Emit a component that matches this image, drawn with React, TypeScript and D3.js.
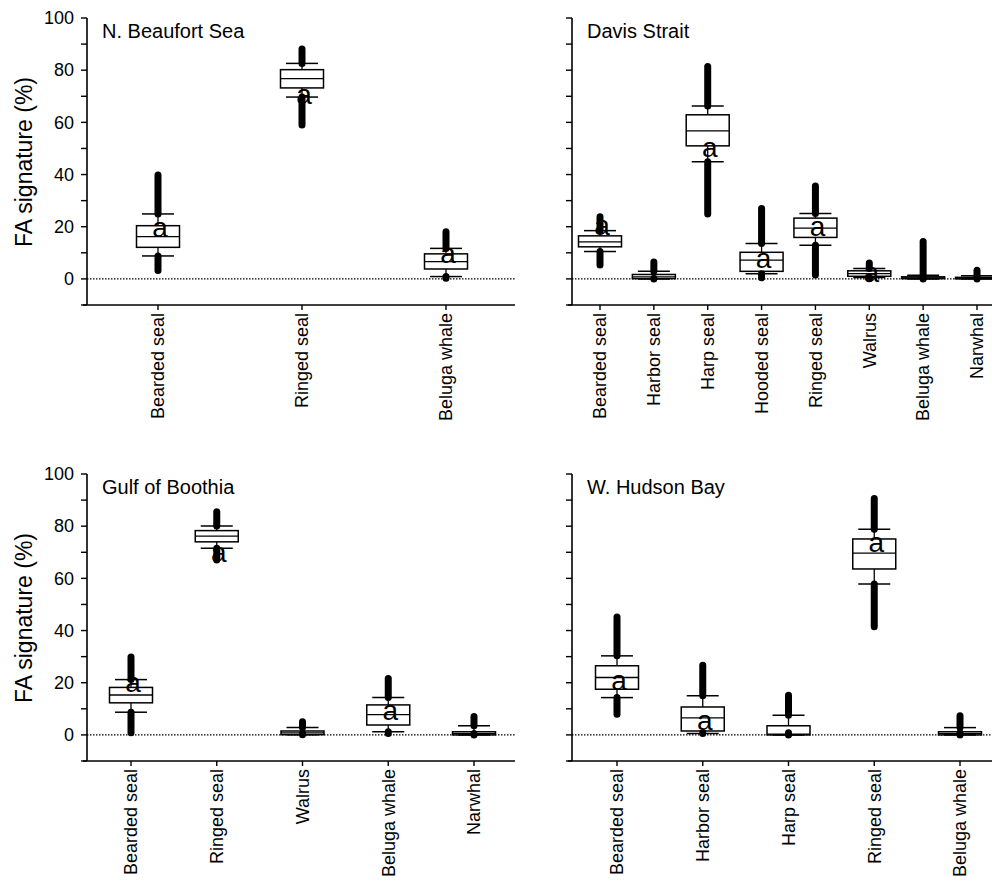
import React from "react";
import * as d3 from "d3";

// Each row: [lowest outlier, lower whisker, Q1, median, Q3, upper whisker, highest outlier]
const beaufortCats = ["Bearded seal", "Ringed seal", "Beluga whale"];
const beaufortStats = [
  [3.2, 8.8, 12.1, 16.2, 20.4, 24.9, 39.8],
  [59.0, 69.7, 73.2, 76.8, 80.2, 82.6, 88.1],
  [0.3, 0.9, 3.8, 6.6, 9.6, 11.7, 18.1],
];
const beaufortLetters = [16.2, 66.9, 6.0];

const davisCats = ["Bearded seal", "Harbor seal", "Harp seal", "Hooded seal", "Ringed seal", "Walrus", "Beluga whale", "Narwhal"];
const davisStats = [
  [5.3, 10.5, 12.3, 14.2, 16.5, 18.5, 23.8],
  [0.3, 0, 0.1, 0.8, 1.7, 2.9, 6.5],
  [24.9, 44.9, 51.0, 56.7, 62.9, 66.3, 81.4],
  [0.4, 2.0, 2.9, 7.2, 10.2, 13.6, 27.0],
  [1.5, 12.9, 15.9, 19.5, 23.3, 25.1, 35.6],
  [0.1, 0.5, 1.0, 2.0, 3.1, 4.0, 6.1],
  [0.4, 0, 0.1, 0.4, 0.8, 1.4, 14.3],
  [0.4, 0, 0.1, 0.3, 0.6, 1.2, 3.3],
];
const davisLetters = [16.8, null, 46.9, 4.0, 16.4, -1.1, null, null];

const boothiaCats = ["Bearded seal", "Ringed seal", "Walrus", "Beluga whale", "Narwhal"];
const boothiaStats = [
  [0.8, 8.7, 12.3, 15.3, 18.2, 21.2, 29.9],
  [67.0, 71.5, 74.0, 76.2, 78.3, 80.1, 85.5],
  [0.5, 0.1, 0.1, 0.8, 1.5, 2.8, 5.0],
  [0.5, 1.2, 3.8, 7.8, 11.5, 14.3, 21.6],
  [0.5, 0, 0, 0.5, 1.2, 3.5, 7.1],
];
const boothiaLetters = [16.5, 66.1, null, 5.9, null];

const hudsonCats = ["Bearded seal", "Harbor seal", "Harp seal", "Ringed seal", "Beluga whale"];
const hudsonStats = [
  [7.9, 14.3, 17.5, 22.0, 26.5, 30.3, 45.2],
  [0.8, 0.5, 1.5, 6.5, 10.7, 15.0, 26.7],
  [0.8, 0, 0, 0.3, 3.5, 7.5, 15.2],
  [41.5, 57.8, 63.6, 69.7, 75.1, 78.8, 90.6],
  [0.8, 0, 0, 0.5, 1.2, 2.8, 7.3],
];
const hudsonLetters = [17.1, 1.8, null, 70.2, null];

const yTickValues = [-10, 0, 10, 20, 30, 40, 50, 60, 70, 80, 90, 100];
const yLabelValues = [0, 20, 40, 60, 80, 100];
const yTitle = "FA signature (%)";

const FONT = "'Liberation Sans', Arial, Helvetica, sans-serif";

type PanelProps = {
  title: string;
  cats: string[];
  stats: number[][];
  letters: (number | null)[];
  axisX: number;
  xEnd: number;
  firstX: number;
  lastX: number;
  yTop: number;
  yBottom: number;
  showLabels: boolean;
};

function Panel(p: PanelProps) {
  const y = d3.scaleLinear().domain([-10, 100]).range([p.yBottom, p.yTop]);
  const x = d3.scalePoint<string>().domain(p.cats).range([p.firstX, p.lastX]);
  const boxW = 43;
  const capW = 32;
  const dotW = 7;
  return (
    <g style={{ fontFamily: FONT }}>
      <line x1={p.axisX} x2={p.xEnd} y1={y(0)} y2={y(0)} stroke="#000" strokeWidth={1.3} strokeDasharray="1.5,1.5" />
      <line x1={p.axisX} x2={p.axisX} y1={y(100)} y2={y(-10)} stroke="#000" strokeWidth={1.6} />
      {yTickValues.map((t) => (
        <line key={t} x1={p.axisX - 6} x2={p.axisX} y1={y(t)} y2={y(t)} stroke="#000" strokeWidth={1.4} />
      ))}
      {p.showLabels &&
        yLabelValues.map((t) => (
          <text key={"l" + t} x={p.axisX - 13} y={y(t)} dy="0.35em" textAnchor="end" fontSize={18} fill="#000">
            {t}
          </text>
        ))}
      <line x1={p.axisX - 4} x2={p.xEnd} y1={y(-10)} y2={y(-10)} stroke="#000" strokeWidth={1.6} />
      {p.cats.map((c) => (
        <g key={c}>
          <line x1={x(c)!} x2={x(c)!} y1={y(-10)} y2={y(-10) + 5} stroke="#000" strokeWidth={1.4} />
          <text
            transform={`translate(${x(c)!},${y(-10) + 8}) rotate(-90)`}
            textAnchor="end"
            dy="0.35em"
            fontSize={18}
            fill="#000"
          >
            {c}
          </text>
        </g>
      ))}
      {p.cats.map((c, i) => {
        const [oLo, wLo, q1, med, q3, wHi, oHi] = p.stats[i];
        const cx = x(c)!;
        const letter = p.letters[i];
        return (
          <g key={"b" + c}>
            <line x1={cx} x2={cx} y1={y(q3)} y2={y(wHi)} stroke="#000" strokeWidth={1.3} />
            <line x1={cx} x2={cx} y1={y(q1)} y2={y(wLo)} stroke="#000" strokeWidth={1.3} />
            <rect x={cx - boxW / 2} y={y(q3)} width={boxW} height={Math.max(1.5, y(q1) - y(q3))} fill="#fff" stroke="#000" strokeWidth={1.5} />
            <line x1={cx - boxW / 2} x2={cx + boxW / 2} y1={y(med)} y2={y(med)} stroke="#000" strokeWidth={1.3} />
            <line x1={cx - capW / 2} x2={cx + capW / 2} y1={y(wHi)} y2={y(wHi)} stroke="#000" strokeWidth={1.5} />
            <line x1={cx - capW / 2} x2={cx + capW / 2} y1={y(wLo)} y2={y(wLo)} stroke="#000" strokeWidth={1.5} />
            <line x1={cx} x2={cx} y1={y(wHi)} y2={y(oHi)} stroke="#000" strokeWidth={dotW} strokeLinecap="round" />
            <line x1={cx} x2={cx} y1={y(wLo)} y2={y(oLo)} stroke="#000" strokeWidth={dotW} strokeLinecap="round" />
            {letter !== null && (
              <text x={cx + 2} y={y(letter)} textAnchor="middle" fontSize={28} fill="#000" style={{ fontFamily: FONT }}>
                a
              </text>
            )}
          </g>
        );
      })}
      <text x={p.axisX + 15} y={p.yTop + 20} fontSize={20} fill="#000">
        {p.title}
      </text>
    </g>
  );
}

export default function App() {
  return (
    <svg width={992} height={881} style={{ position: "absolute", left: 0, top: 0, background: "#fff", fontFamily: FONT }}>
      <rect width={992} height={881} fill="#fff" />
      <Panel title="N. Beaufort Sea" cats={beaufortCats} stats={beaufortStats} letters={beaufortLetters}
        axisX={87} xEnd={515} firstX={158} lastX={446} yTop={18} yBottom={305} showLabels={true} />
      <Panel title="Davis Strait" cats={davisCats} stats={davisStats} letters={davisLetters}
        axisX={572} xEnd={992} firstX={600} lastX={977} yTop={18} yBottom={305} showLabels={false} />
      <Panel title="Gulf of Boothia" cats={boothiaCats} stats={boothiaStats} letters={boothiaLetters}
        axisX={87} xEnd={515} firstX={131} lastX={474} yTop={474} yBottom={761} showLabels={true} />
      <Panel title="W. Hudson Bay" cats={hudsonCats} stats={hudsonStats} letters={hudsonLetters}
        axisX={572} xEnd={992} firstX={617} lastX={960} yTop={474} yBottom={761} showLabels={false} />
      <text transform="translate(32,162) rotate(-90)" textAnchor="middle" fontSize={23} fill="#000">
        {yTitle}
      </text>
      <text transform="translate(32,618) rotate(-90)" textAnchor="middle" fontSize={23} fill="#000">
        {yTitle}
      </text>
    </svg>
  );
}
